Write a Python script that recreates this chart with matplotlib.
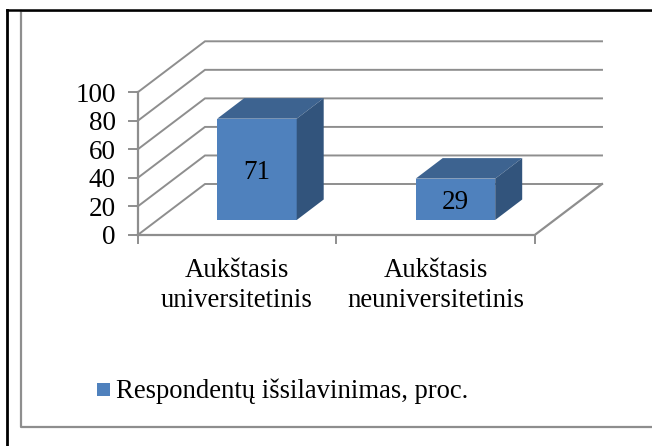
import matplotlib
matplotlib.use("Agg")
import matplotlib.pyplot as plt
from matplotlib.lines import Line2D
from matplotlib.patches import Polygon, Rectangle

plt.rcParams["font.family"] = ["Liberation Serif", "DejaVu Serif"]

categories = ["Aukštasis\nuniversitetinis", "Aukštasis\nneuniversitetinis"]
values = [71, 29]
y_ticks = [0, 20, 40, 60, 80, 100]
legend_label = "Respondentų išsilavinimas, proc."

W, H = 652, 446
grey = "#8e8e8e"
front = "#4f81bd"
top_col = "#3d6390"
side_col = "#32547c"

fig = plt.figure(figsize=(W / 100, H / 100), dpi=100)
ax = fig.add_axes([0, 0, 1, 1])

# 1 category = 198.6 px, 1 value unit = 1.427 px, axis origin at pixel (137.7, 235)
cat_px = 198.5
val_px = 1.427
ax.set_xlim(-137.7 / cat_px, (W - 137.7) / cat_px)
ax.set_ylim(-(H - 235) / val_px, 235 / val_px)
ax.axis("off")

# depth of the floor, in data units
dx = 67.3 / cat_px
dy = 51 / val_px
top_val = y_ticks[-1]

# walls and floor
for t in y_ticks:
    ax.plot([0, dx, 2 + dx], [t, t + dy, t + dy], color=grey, lw=1.4, solid_joinstyle="miter")
    ax.plot([-8.5 / cat_px, 0], [t, t], color=grey, lw=1.4)
ax.plot([0, 0], [0, top_val], color=grey, lw=1.6)
ax.plot([0, 2, 2 + dx], [0, 0, dy], color=grey, lw=1.6)
for i in range(3):
    ax.plot([i, i], [0, -8 / val_px], color=grey, lw=1.4)

# bars
bar_w = 79.5 / cat_px
bar_dx = 27 / cat_px
bar_dy = 20.5 / val_px
shift_x = 20 / cat_px
base = 15 / val_px
for i, v in enumerate(values):
    left = i + 0.5 + shift_x - bar_w / 2
    right = left + bar_w
    ax.bar(i + 0.5 + shift_x, v, width=bar_w, bottom=base, color=front, zorder=3)
    ax.add_patch(Polygon([(left, base + v), (right, base + v),
                          (right + bar_dx, base + v + bar_dy), (left + bar_dx, base + v + bar_dy)],
                         color=top_col, lw=0, zorder=3))
    ax.add_patch(Polygon([(right, base), (right + bar_dx, base + bar_dy),
                          (right + bar_dx, base + v + bar_dy), (right, base + v)],
                         color=side_col, lw=0, zorder=3))
    ax.text(i + 0.5 + shift_x, base + v / 2 - 3.5 / val_px, str(v), ha="center", va="center",
            fontsize=19.5, color="black", zorder=4)

# labels
for t in y_ticks:
    ax.text(-22 / cat_px, t - 3 / val_px, str(t), ha="right", va="center", fontsize=19.5, color="black")
for i, c in enumerate(categories):
    ax.text(i + 0.5, -(258 - 235) / val_px, c, ha="center", va="top",
            fontsize=19.3, color="black", linespacing=1.27)


# frame lines and legend in pixel positions
def px_line(xs, ys, col, lw):
    fig.add_artist(Line2D([x / W for x in xs], [1 - y / H for y in ys], color=col, lw=lw))


px_line([21, 21, W], [11, 427, 427], grey, 1.6)
px_line([21, W], [11, 11], grey, 1.2)
px_line([6.5, 6.5], [H, 10], "black", 2)
px_line([6.5, W], [10, 10], "black", 1.8)

fig.add_artist(Rectangle((97 / W, 1 - 396 / H), 13 / W, 13 / H, color=front, lw=0,
                         transform=fig.transFigure))
fig.text(116 / W, 1 - 391 / H, legend_label, ha="left", va="center", fontsize=19.2, color="black")

fig.savefig("out.png", dpi=100)
